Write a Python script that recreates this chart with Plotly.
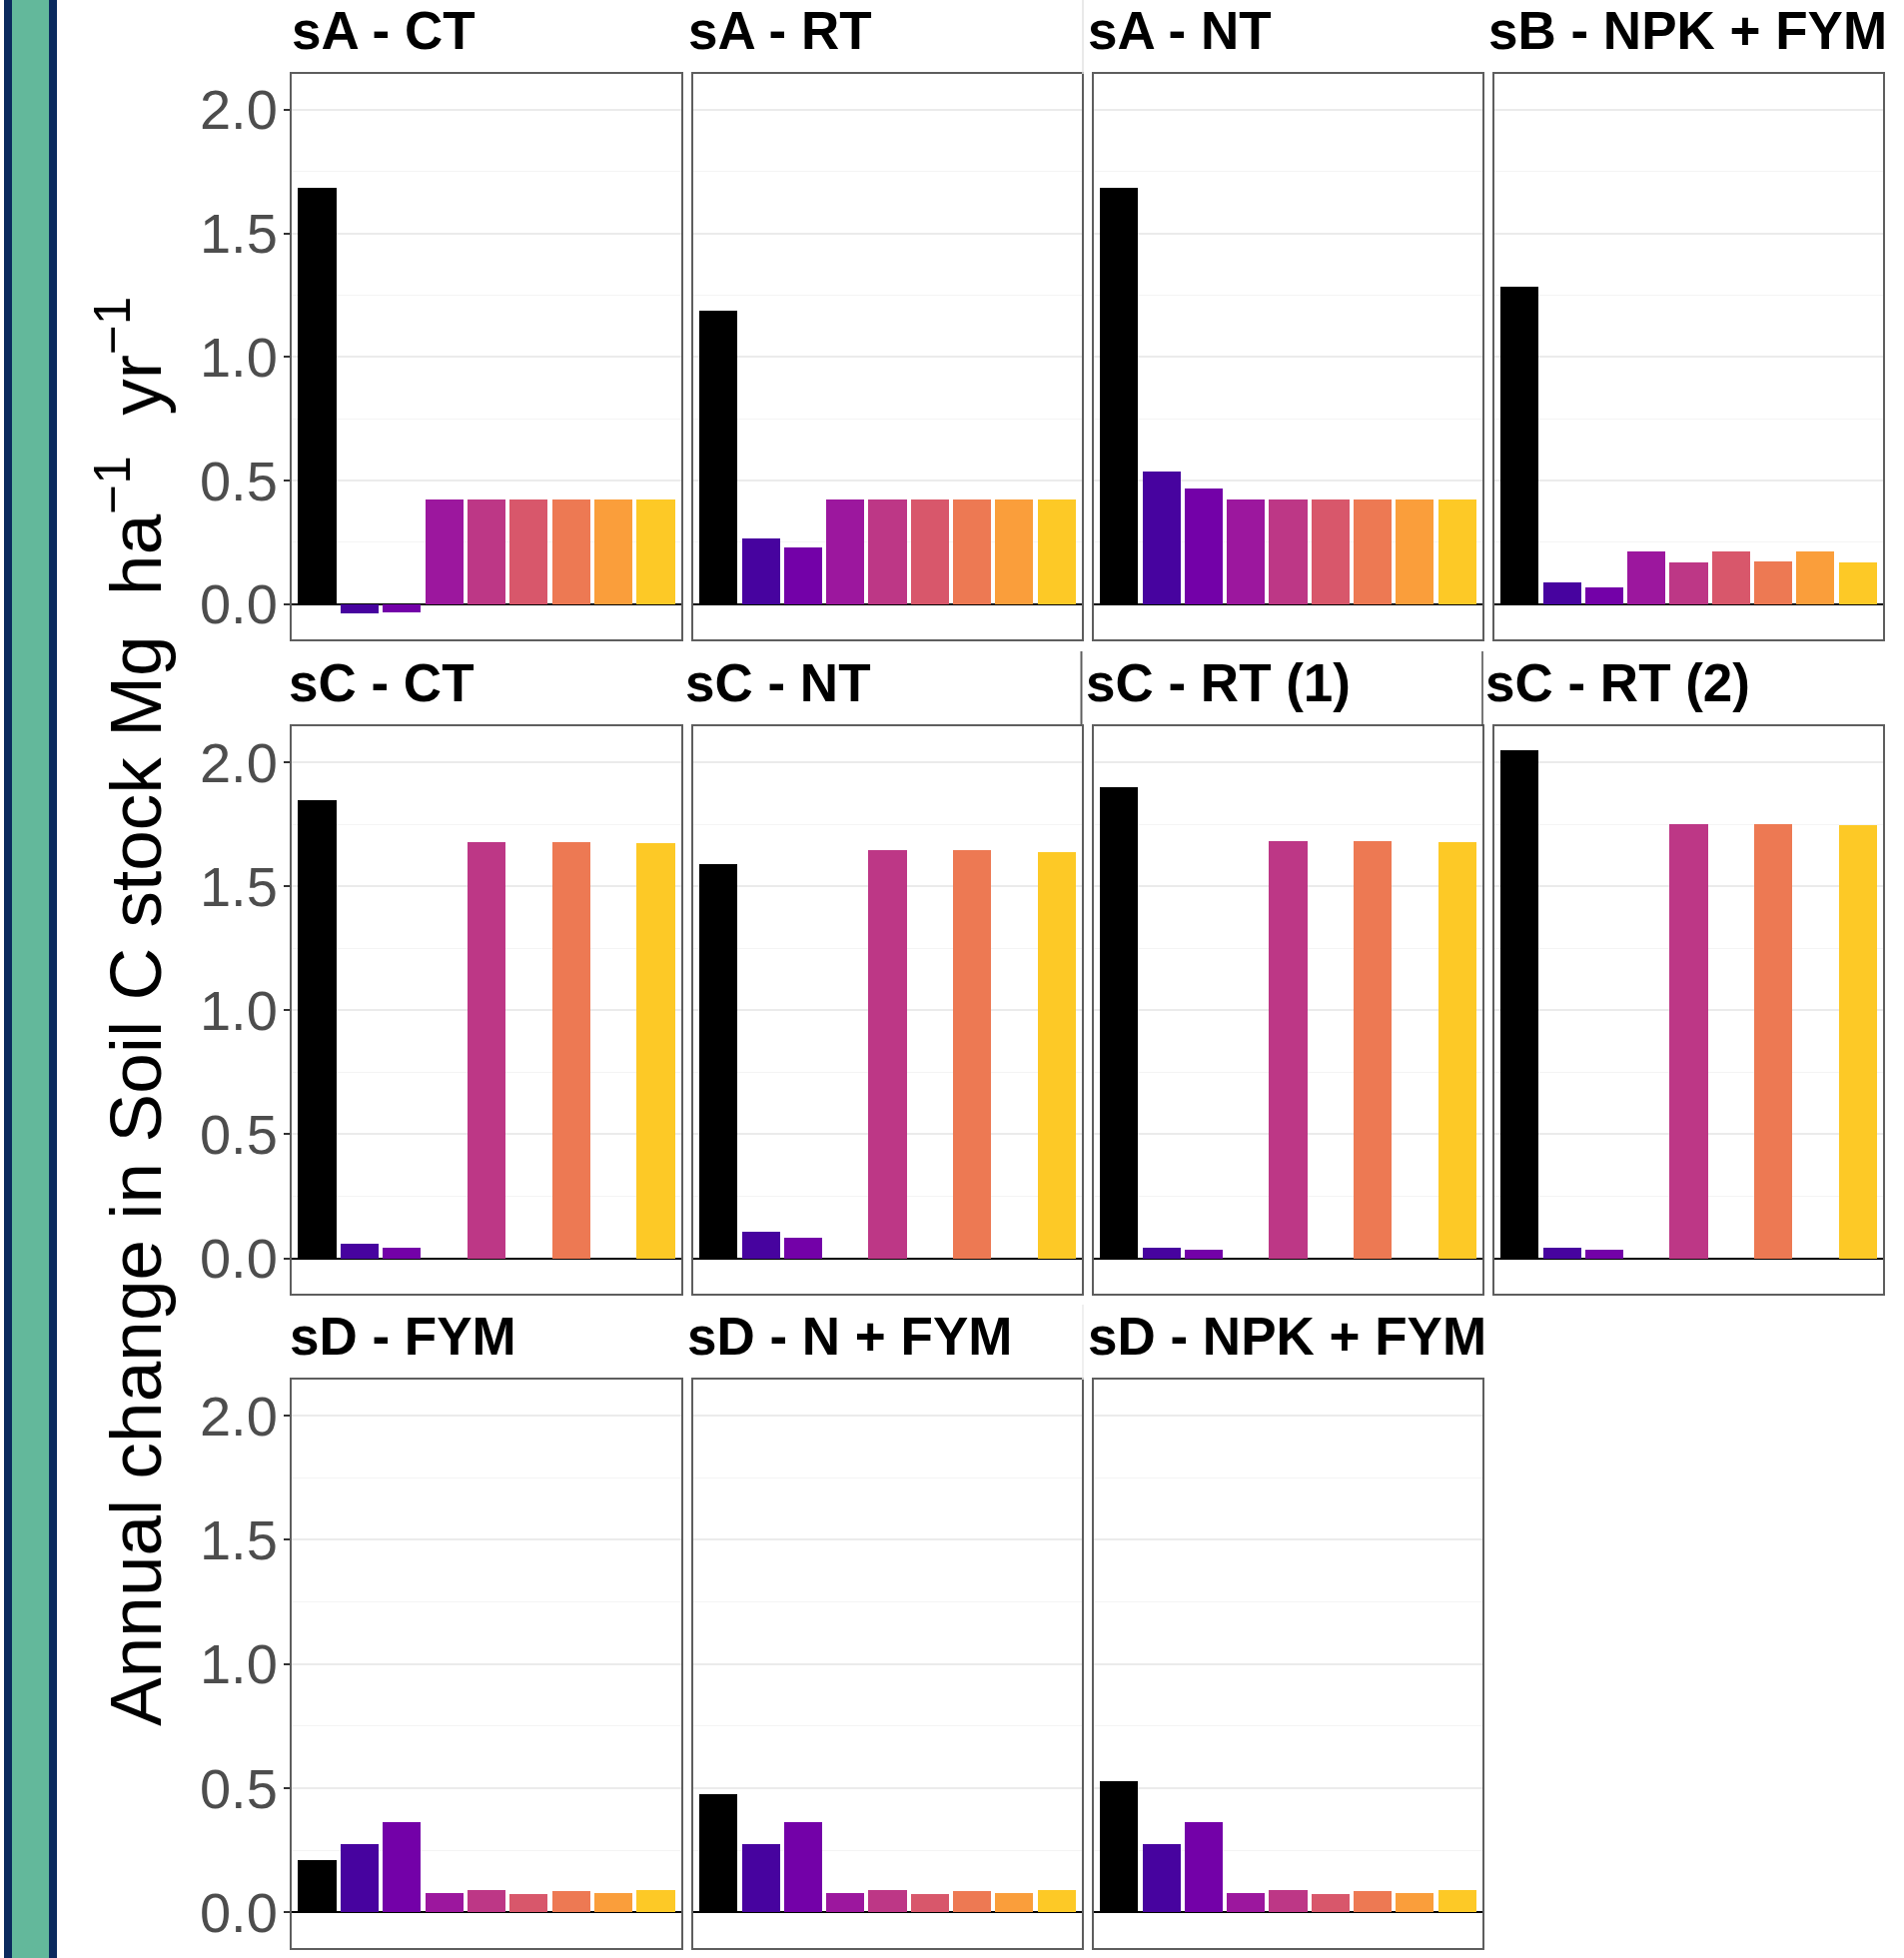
import plotly.graph_objects as go

W, H = 1906, 1960

categories = ["Observed", "Model 1", "Model 2", "Model 3", "Model 4",
              "Model 5", "Model 6", "Model 7", "Model 8"]
bar_colors = ["#000000", "#47039F", "#7301A8", "#9C179E", "#BD3786",
              "#D8576B", "#ED7953", "#FA9E3B", "#FDC926"]

panel_titles = ["sA - CT", "sA - RT", "sA - NT", "sB - NPK + FYM",
                "sC - CT", "sC - NT", "sC - RT (1)", "sC - RT (2)",
                "sD - FYM", "sD - N + FYM", "sD - NPK + FYM"]

sA_CT = [1.684, -0.039, -0.034, 0.422, 0.422, 0.422, 0.422, 0.422, 0.422]
sA_RT = [1.187, 0.264, 0.229, 0.422, 0.422, 0.422, 0.422, 0.422, 0.422]
sA_NT = [1.684, 0.537, 0.466, 0.422, 0.422, 0.422, 0.422, 0.422, 0.422]
sB_NPK_FYM = [1.285, 0.087, 0.066, 0.212, 0.170, 0.212, 0.172, 0.212, 0.170]
sC_CT = [1.848, 0.058, 0.044, None, 1.677, None, 1.679, None, 1.673]
sC_NT = [1.588, 0.105, 0.081, None, 1.644, None, 1.644, None, 1.638]
sC_RT1 = [1.901, 0.044, 0.034, None, 1.682, None, 1.682, None, 1.678]
sC_RT2 = [2.050, 0.044, 0.034, None, 1.749, None, 1.749, None, 1.745]
sD_FYM = [0.210, 0.275, 0.362, 0.078, 0.090, 0.075, 0.087, 0.078, 0.090]
sD_N_FYM = [0.475, 0.275, 0.362, 0.078, 0.090, 0.075, 0.087, 0.078, 0.090]
sD_NPK_FYM = [0.529, 0.275, 0.362, 0.078, 0.090, 0.075, 0.087, 0.078, 0.090]

panel_values = [sA_CT, sA_RT, sA_NT, sB_NPK_FYM,
                sC_CT, sC_NT, sC_RT1, sC_RT2,
                sD_FYM, sD_N_FYM, sD_NPK_FYM]

y_title = "Annual change in Soil C stock Mg  ha<sup>−1</sup>  yr<sup>−1</sup>"

# layout geometry (pixels)
col_px = [(292, 682), (693.5, 1082.5), (1095, 1484), (1496, 1885)]
row_px = [(74, 640), (727, 1295), (1381, 1950)]
title_cy = [30.5, 683.5, 1337.5]
title_left = [293, 690, 1090.5, 1491,
              290.5, 687, 1088, 1488,
              291.8, 689, 1090.6]

def px_x(v):
    return v / W

def px_y(v):
    return 1 - v / H

fig = go.Figure()
annotations = []

for i, (title, vals) in enumerate(zip(panel_titles, panel_values)):
    r, c = divmod(i, 4)
    n = i + 1
    xa = "x" if n == 1 else f"x{n}"
    ya = "y" if n == 1 else f"y{n}"
    fig.add_trace(go.Bar(
        x=categories, y=vals, width=0.9,
        marker=dict(color=bar_colors, line=dict(width=0)),
        xaxis=xa, yaxis=ya, showlegend=False, hoverinfo="x+y"))
    x0, x1 = col_px[c]
    y0, y1 = row_px[r]
    xkey = "xaxis" if n == 1 else f"xaxis{n}"
    ykey = "yaxis" if n == 1 else f"yaxis{n}"
    fig.layout[xkey] = dict(
        domain=[px_x(x0), px_x(x1)], anchor=ya, type="category",
        categoryorder="array", categoryarray=categories,
        range=[-0.6, 8.6], showticklabels=False, ticks="",
        showgrid=False, zeroline=False,
        showline=True, linecolor="#5E5E5E", linewidth=2, mirror=True,
        fixedrange=True)
    fig.layout[ykey] = dict(
        domain=[px_y(y1), px_y(y0)], anchor=xa,
        range=[-0.143, 2.145], tick0=0, dtick=0.5, tickformat=".1f",
        showticklabels=(c == 0), ticks="outside" if c == 0 else "",
        ticklen=6, tickwidth=2, tickcolor="#333333",
        ticklabelstandoff=-5,
        tickfont=dict(family="Liberation Sans", size=56, color="#4D4D4D"),
        showgrid=True, gridcolor="#EBEBEB", gridwidth=2,
        minor=dict(dtick=0.25, tick0=0, showgrid=True,
                   gridcolor="#F4F4F4", gridwidth=1, ticks=""),
        zeroline=True, zerolinecolor="#000000", zerolinewidth=2,
        showline=True, linecolor="#5E5E5E", linewidth=2, mirror=True,
        fixedrange=True)
    annotations.append(dict(
        text=f"<b>{title}</b>", xref="paper", yref="paper",
        x=px_x(title_left[i] - 3.5), y=px_y(title_cy[r]),
        xanchor="left", yanchor="middle", showarrow=False,
        font=dict(family="Liberation Sans", size=53, color="#000000")))

annotations.append(dict(
    text=y_title, xref="paper", yref="paper",
    x=px_x(130), y=px_y(1013), xanchor="center", yanchor="middle",
    textangle=-90, showarrow=False,
    font=dict(family="Liberation Sans", size=73, color="#000000")))

shapes = [
    dict(type="rect", xref="paper", yref="paper", x0=px_x(4), x1=px_x(12),
         y0=0, y1=1, fillcolor="#0B2A5E", line=dict(width=0), layer="below"),
    dict(type="rect", xref="paper", yref="paper", x0=px_x(12), x1=px_x(49),
         y0=0, y1=1, fillcolor="#63B89B", line=dict(width=0), layer="below"),
    dict(type="rect", xref="paper", yref="paper", x0=px_x(49), x1=px_x(57),
         y0=0, y1=1, fillcolor="#0B2A5E", line=dict(width=0), layer="below"),
    # stitching seams visible in the strip areas
    dict(type="line", xref="paper", yref="paper", x0=px_x(1084), x1=px_x(1084),
         y0=px_y(0), y1=px_y(74), line=dict(color="#E2E2E2", width=1.5)),
    dict(type="line", xref="paper", yref="paper", x0=px_x(1082.5), x1=px_x(1082.5),
         y0=px_y(652), y1=px_y(727), line=dict(color="#5E5E5E", width=2)),
    dict(type="line", xref="paper", yref="paper", x0=px_x(1484), x1=px_x(1484),
         y0=px_y(652), y1=px_y(727), line=dict(color="#4A4A4A", width=1.5)),
    dict(type="line", xref="paper", yref="paper", x0=px_x(1084), x1=px_x(1084),
         y0=px_y(1306), y1=px_y(1381), line=dict(color="#EAEAEA", width=1.5)),
]

fig.update_layout(
    width=W, height=H, margin=dict(l=0, r=0, t=0, b=0),
    paper_bgcolor="#FFFFFF", plot_bgcolor="#FFFFFF",
    annotations=annotations, shapes=shapes, bargap=0,
    font=dict(family="Liberation Sans"))

fig.write_html("out.html",
               config={"displayModeBar": False},
               post_script="document.body.style.margin='0px';")
